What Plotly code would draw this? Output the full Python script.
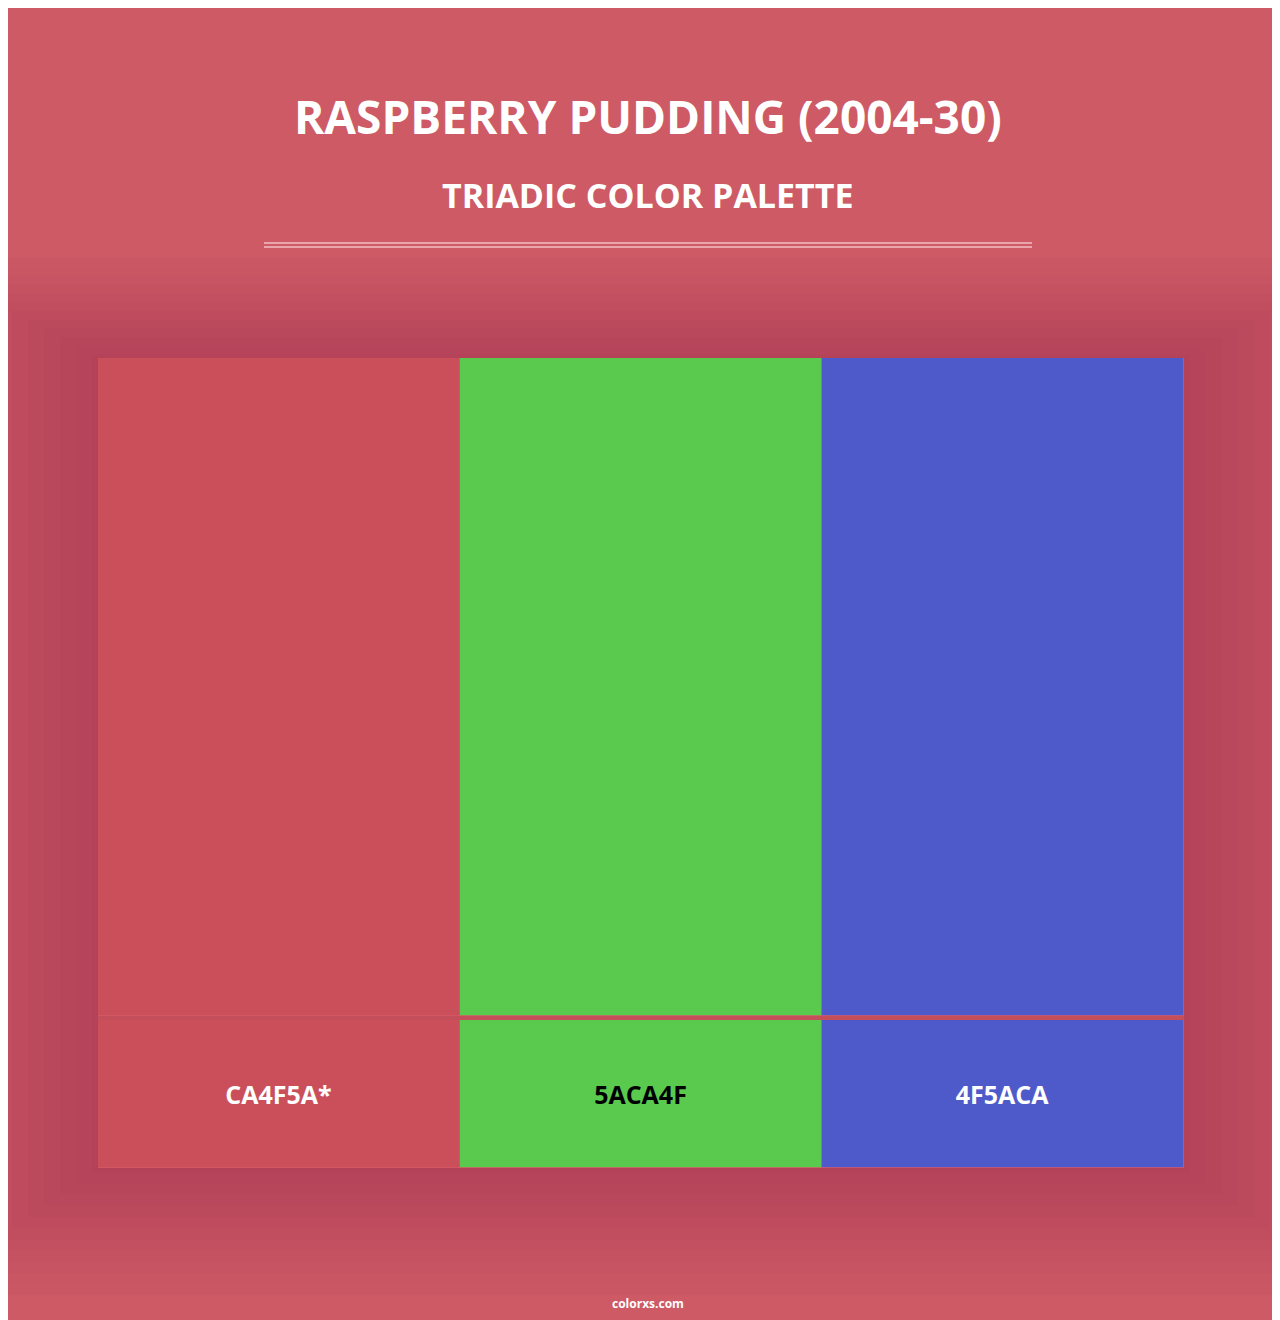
import plotly.graph_objects as go

title = "RASPBERRY PUDDING (2004-30)"
subtitle = "TRIADIC COLOR PALETTE"
codes = ["CA4F5A*", "5ACA4F", "4F5ACA"]
colors = ["#CA4F5A", "#5ACA4F", "#4F5ACA"]
text_colors = ["white", "black", "white"]
label_h = [148, 148, 148]
gap_h = [4, 4, 4]
swatch_h = [658, 658, 658]

W, H = 1280, 1320
bg = "#CD5A65"

fig = go.Figure()
x = [0, 1, 2]
fig.add_trace(go.Bar(x=x, y=label_h, marker=dict(color=colors, line=dict(width=1, color="rgba(210,90,100,0.8)")),
                     width=1, text=codes, textposition="inside", insidetextanchor="middle",
                     textfont=dict(color=text_colors, size=25, family="Open Sans", weight="bold"),
                     hoverinfo="skip"))
fig.add_trace(go.Bar(x=x, y=gap_h, marker=dict(color="#C44E59", line=dict(width=0)), width=1, hoverinfo="skip"))
fig.add_trace(go.Bar(x=x, y=swatch_h, marker=dict(color=colors, line=dict(width=1, color="rgba(210,90,100,0.8)")),
                     width=1, hoverinfo="skip"))

shapes = []
# soft shadow around the palette
for i in range(12):
    pad = 6 + i * 16
    shapes.append(dict(type="rect", xref="paper", yref="paper", layer="below",
                       x0=(90 - pad) / W, x1=(1176 + pad) / W,
                       y0=1 - (1160 + pad * 0.7) / H, y1=1 - (350 - pad * 0.55) / H,
                       fillcolor="rgba(90,20,30,0.018)", line=dict(width=0)))
for yy in (235, 239):
    shapes.append(dict(type="line", xref="paper", yref="paper", x0=256 / W, x1=1024 / W,
                       y0=1 - yy / H, y1=1 - yy / H, line=dict(color="rgba(255,225,225,0.75)", width=1.5)))

fig.update_layout(
    width=W, height=H, margin=dict(l=0, r=0, t=0, b=0),
    paper_bgcolor=bg, plot_bgcolor="rgba(0,0,0,0)",
    barmode="stack", showlegend=False, bargap=0, shapes=shapes,
    xaxis=dict(domain=[90 / W, 1176 / W], range=[-0.5, 2.5], visible=False, fixedrange=True),
    yaxis=dict(domain=[1 - 1160 / H, 1 - 350 / H], range=[0, 810], visible=False, fixedrange=True),
    annotations=[
        dict(text="<b>" + title + "</b>", x=0.5, y=1 - 108 / H, xref="paper", yref="paper", yanchor="middle",
             showarrow=False, font=dict(size=46, color="white", family="Open Sans")),
        dict(text="<b>" + subtitle + "</b>", x=0.5, y=1 - 187 / H, xref="paper", yref="paper", yanchor="middle",
             showarrow=False, font=dict(size=34, color="white", family="Open Sans")),
        dict(text="<b>colorxs.com</b>", x=0.5, y=1 - 1295 / H, xref="paper", yref="paper", yanchor="middle",
             showarrow=False, font=dict(size=12, color="white", family="Open Sans")),
    ],
)
fig.write_html("out.html")
